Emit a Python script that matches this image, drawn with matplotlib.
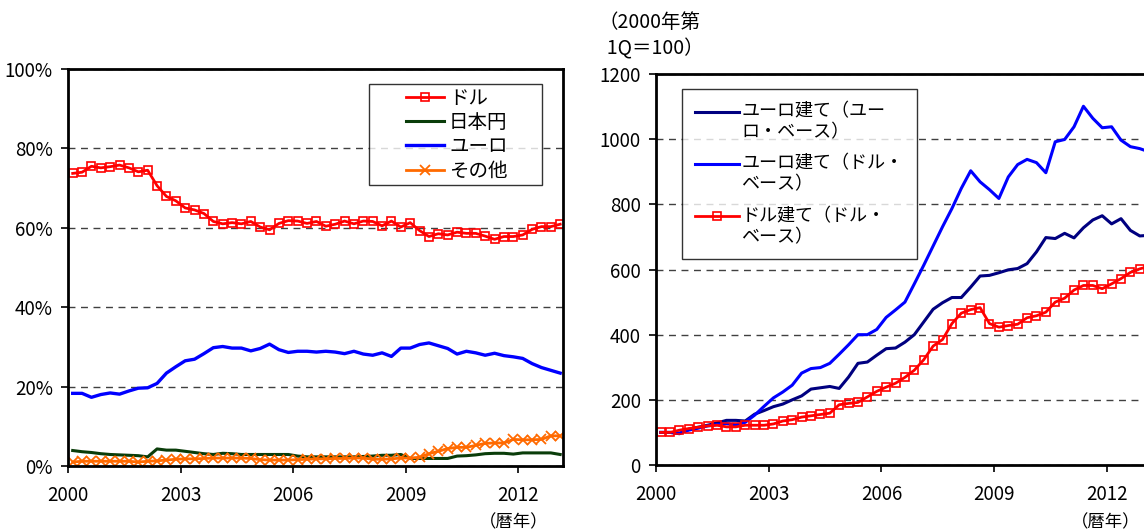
import numpy as np
import matplotlib
matplotlib.use("Agg")
import matplotlib.pyplot as plt
from matplotlib.legend_handler import HandlerLine2D

plt.rcParams['font.family'] = ['Noto Sans CJK JP', 'DejaVu Sans']

# --- データ（2000年第1四半期〜2013年第1四半期、四半期） ---
t = 2000 + np.arange(53) / 4 + 1 / 8   # 四半期の中央

# 左: 通貨別シェア（%）
dollar = [73.7, 74.0, 75.5, 75.1, 75.4, 75.8, 75.1, 74.1, 74.5, 70.6,
          67.9, 66.8, 65.0, 64.5, 63.6, 61.6, 61.0, 61.3, 61.0, 61.6,
          60.2, 59.5, 61.1, 61.8, 61.7, 61.1, 61.6, 60.4, 60.9, 61.7,
          61.0, 61.7, 61.6, 60.5, 61.7, 60.2, 61.3, 59.3, 57.8, 58.5,
          58.2, 58.9, 58.6, 58.6, 57.9, 57.1, 57.8, 57.8, 58.2, 59.6,
          60.3, 60.3, 60.9]
yen = [3.9, 3.6, 3.4, 3.1, 2.9, 2.8, 2.7, 2.6, 2.3, 4.3,
       4.0, 4.0, 3.7, 3.4, 3.1, 2.9, 3.2, 3.1, 2.9, 2.9,
       2.9, 2.9, 2.9, 2.9, 2.5, 2.3, 2.3, 2.3, 2.3, 2.3,
       2.3, 2.4, 2.5, 2.7, 2.7, 2.9, 1.9, 1.9, 1.9, 1.9,
       1.9, 2.5, 2.6, 2.8, 3.1, 3.2, 3.2, 3.0, 3.3, 3.3,
       3.3, 3.3, 2.9]
euro = [18.3, 18.3, 17.3, 18.0, 18.4, 18.1, 18.9, 19.6, 19.7, 20.8,
        23.4, 25.0, 26.5, 26.9, 28.3, 29.8, 30.1, 29.7, 29.7, 29.0,
        29.6, 30.7, 29.3, 28.6, 28.9, 28.9, 28.7, 28.9, 28.7, 28.3,
        28.9, 28.2, 27.9, 28.5, 27.6, 29.7, 29.7, 30.6, 31.0, 30.3,
        29.6, 28.2, 28.9, 28.5, 27.9, 28.4, 27.8, 27.5, 27.1, 25.8,
        24.8, 24.1, 23.4]
other = [1.0, 1.2, 1.2, 1.2, 1.2, 1.2, 1.2, 1.0, 1.2, 1.3,
         1.5, 1.7, 1.8, 1.8, 1.9, 2.0, 2.0, 2.0, 2.0, 1.9,
         1.6, 1.5, 1.5, 1.5, 1.6, 1.7, 1.8, 1.8, 1.9, 1.9,
         2.0, 2.0, 1.7, 1.7, 1.8, 2.0, 2.0, 2.2, 3.1, 3.7,
         4.4, 4.7, 4.7, 5.2, 5.7, 5.8, 5.8, 6.7, 6.6, 6.6,
         6.7, 7.6, 7.6]

# 右: 残高指数（2000年第1Q=100）
euro_eur = [100, 100, 96, 110, 116, 122, 129, 137, 137, 135,
            156, 167, 179, 187, 200, 212, 233, 237, 241, 235,
            270, 312, 316, 337, 357, 359, 377, 400, 439, 478,
            498, 514, 514, 546, 580, 582, 590, 599, 603, 618,
            654, 698, 695, 711, 697, 728, 752, 765, 740, 756,
            720, 703, 705]
euro_usd = [100, 100, 98, 107, 113, 120, 124, 127, 123, 131,
            153, 180, 206, 224, 245, 282, 296, 299, 312, 340,
            369, 400, 400, 416, 453, 476, 500, 556, 613, 672,
            731, 787, 849, 903, 869, 845, 818, 884, 922, 938,
            928, 897, 992, 999, 1038, 1101, 1064, 1035, 1038, 997,
            977, 971, 961]
dollar_usd = [100, 100, 107, 112, 116, 120, 122, 117, 117, 122,
              122, 122, 126, 135, 139, 147, 151, 155, 159, 185,
              189, 192, 209, 226, 239, 251, 269, 291, 323, 365,
              385, 434, 466, 477, 483, 434, 423, 428, 432, 452,
              458, 469, 500, 512, 537, 551, 551, 541, 556, 572,
              591, 602, 610]

year_ticks = [2000, 2003, 2006, 2009, 2012]


class ShiftedLine(HandlerLine2D):
    # 凡例の線を右寄せ・上寄せで描く（Excel風）
    def __init__(self, x0frac=0.0, yshift=0.0, **kw):
        super().__init__(**kw)
        self.x0frac = x0frac
        self.yshift = yshift

    def create_artists(self, legend, orig_handle, xdescent, ydescent,
                       width, height, fontsize, trans):
        arts = super().create_artists(legend, orig_handle, xdescent, ydescent,
                                      width, height, fontsize, trans)
        x0 = -xdescent + self.x0frac * width
        x1 = -xdescent + width
        for a in arts:
            n = len(a.get_xdata())
            a.set_xdata(np.linspace(x0, x1, n) if n > 1 else [(x0 + x1) / 2])
            a.set_ydata(np.asarray(a.get_ydata()) + self.yshift * fontsize)
        return arts


fig = plt.figure(figsize=(11.44, 5.30), dpi=100)
ax1 = fig.add_axes([68 / 1144, 64 / 530, 495 / 1144, 397 / 530])
ax2 = fig.add_axes([656 / 1144, 65 / 530, 496 / 1144, 391 / 530])


def style_axes(ax):
    for s in ax.spines.values():
        s.set_linewidth(2)
        s.set_color('black')
    ax.grid(axis='y', linestyle=(0, (5, 4)), color='#404040', linewidth=1)
    ax.set_axisbelow(True)
    ax.tick_params(axis='both', direction='out', length=5, width=1.2,
                   labelsize=13.5)
    ax.tick_params(axis='y', pad=6)
    ax.tick_params(axis='x', pad=9)
    ax.set_xticks(year_ticks)
    ax.set_xticklabels([str(y) for y in year_ticks])
    ax.set_xlim(2000, 2013.2)


# --- 左パネル ---
style_axes(ax1)
ax1.plot(t, dollar, color='red', lw=2, marker='s', ms=6, mfc='none',
         mec='red', mew=1.2, label='ドル')
ax1.plot(t, yen, color='#0a3d0a', lw=2.2, label='日本円')
ax1.plot(t, euro, color='blue', lw=2.4, label='ユーロ')
ax1.plot(t, other, color='#ff6a00', lw=2, marker='x', ms=7, mew=1.3,
         label='その他')
ax1.set_ylim(0, 100)
ax1.set_yticks(range(0, 101, 20))
ax1.set_yticklabels([f'{v}%' for v in range(0, 101, 20)])
leg1 = ax1.legend(loc='upper left', bbox_to_anchor=(0.608, 0.5, 0.3495, 0.462),
                  mode='expand', frameon=True, fancybox=False,
                  edgecolor='black', fontsize=14, handlelength=3.66,
                  handletextpad=0.26, labelspacing=0.16, borderpad=0.2,
                  borderaxespad=0,
                  handler_map={plt.Line2D: ShiftedLine(x0frac=0.46)})
leg1.get_frame().set_linewidth(1)

# --- 右パネル ---
style_axes(ax2)
ax2.plot(t, euro_eur, color='#000080', lw=2.2, label='ユーロ建て（ユー\nロ・ベース）')
ax2.plot(t, euro_usd, color='blue', lw=2.2, label='ユーロ建て（ドル・\nベース）')
ax2.plot(t, dollar_usd, color='red', lw=2, marker='s', ms=6, mfc='none',
         mec='red', mew=1.2, label='ドル建て（ドル・\nベース）')
ax2.set_ylim(0, 1200)
ax2.set_yticks(range(0, 1201, 200))
leg2 = ax2.legend(loc='upper left', bbox_to_anchor=(0.052, 0.962),
                  frameon=True, fancybox=False, edgecolor='black',
                  fontsize=13, handlelength=2.4, handletextpad=0.15,
                  labelspacing=0.75, borderpad=0.75, borderaxespad=0,
                  handler_map={plt.Line2D: ShiftedLine(yshift=0.6)})
leg2.get_frame().set_linewidth(1)

fig.text(598 / 1144, 1 - 36 / 530, '（2000年第\n  1Q＝100）', fontsize=14,
         ha='left', va='center', linespacing=1.3)
fig.text(548 / 1144, 1 - 522 / 530, '（暦年）', fontsize=12.5, ha='right', va='center')
fig.text(1140 / 1144, 1 - 522 / 530, '（暦年）', fontsize=12.5, ha='right', va='center')

fig.savefig('out.png', dpi=100)
